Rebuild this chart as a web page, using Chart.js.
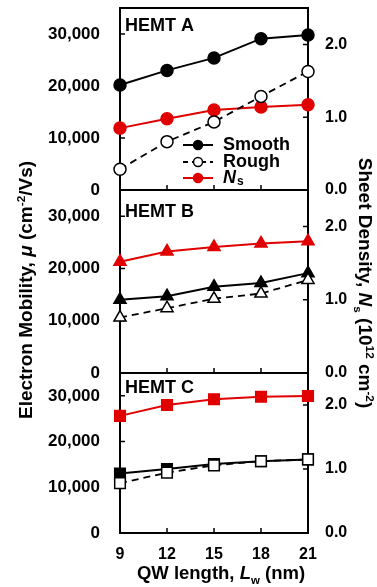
<!DOCTYPE html>
<html>
<head>
<meta charset="utf-8">
<script src="https://cdn.jsdelivr.net/npm/chart.js@4.4.1/dist/chart.umd.min.js"></script>
<style>
  body { margin: 0; background: #fff; }
  #wrap { position: relative; width: 377px; height: 587px; overflow: hidden;
          font-family: 'Liberation Sans', Arial, sans-serif; font-weight: bold; color: #000; }
  canvas { position: absolute; left: 0; }
  .title { position: absolute; white-space: nowrap; text-align: center; width: 300px; height: 22px; line-height: 22px; }
  sup, sub { font-size: 0.62em; line-height: 0; }
  #yLeft { font-size: 19px; left: -124px; top: 279px; transform: rotate(-90deg); }
  #yRight { font-size: 19px; left: 215px; top: 272px; transform: rotate(90deg); }
  #xTitle { font-size: 18.5px; left: 71px; top: 562px; }
</style>
</head>
<body>
<div id="wrap">
  <canvas id="chartA" width="377" height="200" style="top:0px"></canvas>
  <canvas id="chartB" width="377" height="203" style="top:180px"></canvas>
  <canvas id="chartC" width="377" height="224" style="top:363px"></canvas>
  <div class="title" id="yLeft">Electron Mobility, <i>μ</i> (cm<sup>-2</sup>/Vs)</div>
  <div class="title" id="yRight">Sheet Density, <i>N</i><sub>s</sub> (10<sup>12</sup> cm<sup>-2</sup>)</div>
  <div class="title" id="xTitle">QW length, <i>L</i><sub>w</sub> (nm)</div>
</div>
<script>
// QW length (nm)
const qwLength = [9, 12, 15, 18, 21];

// mobility (cm2/Vs) and sheet density (1e12 cm-2) per HEMT
const smoothA = [20200, 23000, 25400, 29100, 29800];
const roughA = [4000, 9300, 13100, 18000, 22800];
const nsA = [0.85, 0.98, 1.10, 1.14, 1.17];

const smoothB = [14000, 14700, 16500, 17200, 19100];
const roughB = [10600, 12400, 14200, 15200, 17800];
const nsB = [1.52, 1.66, 1.72, 1.77, 1.80];

const smoothC = [13000, 14000, 15100, 15700, 16100];
const roughC = [10900, 13200, 14800, 15700, 16100];
const nsC = [1.83, 2.00, 2.09, 2.13, 2.14];

const muTicks = [0, 10000, 20000, 30000];
const nsTicks = [0, 1, 2];

const RED = '#e00000';
const FONT = "'Liberation Sans', Arial, sans-serif";
const tickFont = { family: FONT, size: 16, weight: 'bold' };

// frame, inward ticks, panel label and (panel A) legend
const panelDeco = {
  id: 'panelDeco',
  beforeDatasetsDraw(chart, args, opts) {
    const { ctx, chartArea: a, scales } = chart;
    ctx.save();
    ctx.strokeStyle = '#000';
    ctx.lineWidth = 2;
    ctx.strokeRect(a.left, a.top, a.right - a.left, a.bottom - a.top);
    ctx.lineWidth = 1.5;
    ctx.beginPath();
    muTicks.forEach(v => {
      const y = scales.y.getPixelForValue(v);
      ctx.moveTo(a.left, y); ctx.lineTo(a.left + 5, y);
    });
    nsTicks.forEach(v => {
      const y = scales.y2.getPixelForValue(v);
      ctx.moveTo(a.right, y); ctx.lineTo(a.right - 5, y);
    });
    qwLength.forEach((v, i) => {
      const x = scales.x.getPixelForValue(i);
      ctx.moveTo(x, a.bottom); ctx.lineTo(x, a.bottom - 5);
    });
    ctx.stroke();
    ctx.fillStyle = '#000';
    ctx.font = 'bold 18px ' + FONT;
    ctx.textBaseline = 'alphabetic';
    ctx.fillText(opts.label, a.left + 5, a.top + opts.labelDy);
    ctx.restore();
  },
  afterDatasetsDraw(chart, args, opts) {
    if (!opts.legend) return;
    const { ctx, chartArea: a } = chart;
    const rows = [
      { dy: 137, color: '#000', dash: [], fill: '#000', text: 'Smooth' },
      { dy: 154, color: '#000', dash: [5, 4], fill: '#fff', text: 'Rough' },
      { dy: 170, color: RED, dash: [], fill: RED, text: 'N', sub: 's' }
    ];
    ctx.save();
    rows.forEach(r => {
      const y = a.top + r.dy;
      ctx.strokeStyle = r.color;
      ctx.lineWidth = 2;
      ctx.setLineDash(r.dash);
      ctx.beginPath();
      ctx.moveTo(a.left + 63, y); ctx.lineTo(a.left + 93, y);
      ctx.stroke();
      ctx.setLineDash([]);
      ctx.fillStyle = r.fill;
      ctx.lineWidth = 1.5;
      ctx.beginPath();
      ctx.arc(a.left + 78, y, 4.5, 0, Math.PI * 2);
      ctx.fill(); ctx.stroke();
      ctx.fillStyle = '#000';
      ctx.textBaseline = 'middle';
      if (r.sub) {
        ctx.font = 'italic bold 18px ' + FONT;
        ctx.fillText(r.text, a.left + 103, y);
        const w = ctx.measureText(r.text).width;
        ctx.font = 'bold 12px ' + FONT;
        ctx.fillText(r.sub, a.left + 104 + w, y + 4);
      } else {
        ctx.font = 'bold 18px ' + FONT;
        ctx.fillText(r.text, a.left + 103, y);
      }
    });
    ctx.restore();
  }
};

// fixed axis size, and no extra label padding pushed into the layout
function fixSize(s, w, h) {
  if (w !== null) s.width = w;
  if (h !== null) s.height = h;
  s.paddingTop = 0; s.paddingBottom = 0;
  s.paddingLeft = 0; s.paddingRight = 0;
}

function makePanel(id, smooth, rough, ns, pointStyle, radius, showX, padding, deco) {
  const ctx = document.getElementById(id).getContext('2d');
  return new Chart(ctx, {
    type: 'line',
    data: {
      labels: qwLength,
      datasets: [
        {
          label: 'Rough', data: rough, yAxisID: 'y',
          borderColor: '#000', borderWidth: 1.8, borderDash: [7, 5],
          pointStyle: pointStyle, pointRadius: radius, pointBorderWidth: 1.5,
          pointBackgroundColor: '#fff', pointBorderColor: '#000', clip: false
        },
        {
          label: 'Smooth', data: smooth, yAxisID: 'y',
          borderColor: '#000', borderWidth: 2,
          pointStyle: pointStyle, pointRadius: radius, pointBorderWidth: 1.5,
          pointBackgroundColor: '#000', pointBorderColor: '#000', clip: false
        },
        {
          label: 'Ns', data: ns, yAxisID: 'y2',
          borderColor: RED, borderWidth: 2,
          pointStyle: pointStyle, pointRadius: radius, pointBorderWidth: 1.5,
          pointBackgroundColor: RED, pointBorderColor: RED, clip: false
        }
      ]
    },
    options: {
      responsive: false,
      animation: false,
      devicePixelRatio: 1,
      layout: { padding: padding },
      elements: { line: { tension: 0 } },
      plugins: {
        legend: { display: false },
        tooltip: { enabled: false },
        panelDeco: deco
      },
      scales: {
        x: {
          display: showX,
          offset: false,
          grid: { display: false, drawTicks: false },
          border: { display: false },
          ticks: { font: tickFont, color: '#000', padding: 12, maxRotation: 0, autoSkip: false },
          afterFit: s => fixSize(s, null, showX ? 54 : 0)
        },
        y: {
          position: 'left', min: 0, max: 35000,
          afterBuildTicks: s => { s.ticks = muTicks.map(v => ({ value: v })); },
          grid: { display: false, drawTicks: false },
          border: { display: false },
          ticks: { font: { family: FONT, size: 17, weight: 'bold' }, color: '#000', padding: 20,
                   callback: v => v.toLocaleString('en-US') },
          afterFit: s => fixSize(s, 120, null)
        },
        y2: {
          position: 'right', min: 0, max: 2.5,
          afterBuildTicks: s => { s.ticks = nsTicks.map(v => ({ value: v })); },
          grid: { display: false, drawTicks: false },
          border: { display: false },
          ticks: { font: tickFont, color: '#000', padding: 17, callback: v => v.toFixed(1) },
          afterFit: s => fixSize(s, 69, null)
        }
      }
    },
    plugins: [panelDeco]
  });
}

makePanel('chartA', smoothA, roughA, nsA, 'circle', 6, false,
  { top: 8, bottom: 10, left: 0, right: 0 }, { label: 'HEMT A', labelDy: 23, legend: true });
makePanel('chartB', smoothB, roughB, nsB, 'triangle', 7, false,
  { top: 10, bottom: 10, left: 0, right: 0 }, { label: 'HEMT B', labelDy: 27, legend: false });
makePanel('chartC', smoothC, roughC, nsC, 'rect', 7.5, true,
  { top: 10, bottom: 0, left: 0, right: 0 }, { label: 'HEMT C', labelDy: 20, legend: false });
</script>
</body>
</html>
